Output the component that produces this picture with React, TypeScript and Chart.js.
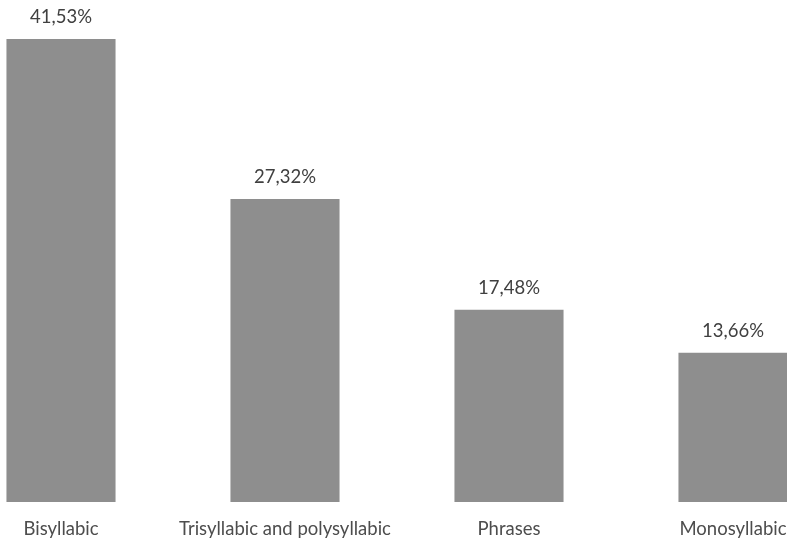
import React, { useEffect, useRef } from "react";
import { Chart, registerables } from "chart.js";

Chart.register(...registerables);

const categories = ["Bisyllabic", "Trisyllabic and polysyllabic", "Phrases", "Monosyllabic"];
const shares = [41.53, 27.32, 17.48, 13.66];
const shareLabels = ["41,53%", "27,32%", "17,48%", "13,66%"];

const FONT = "Lato, 'Open Sans', sans-serif";

const valueLabels = {
  id: "valueLabels",
  afterDatasetsDraw(chart: any) {
    const ctx = chart.ctx;
    const meta = chart.getDatasetMeta(0);
    ctx.save();
    ctx.fillStyle = "#404040";
    ctx.font = `18.5px ${FONT}`;
    ctx.textAlign = "center";
    ctx.textBaseline = "alphabetic";
    meta.data.forEach((bar: any, i: number) => {
      ctx.fillText(shareLabels[i], bar.x, bar.y - 16);
    });
    ctx.restore();
  },
};

export default function App() {
  const canvasRef = useRef<HTMLCanvasElement | null>(null);

  useEffect(() => {
    if (!canvasRef.current) return;
    const chart = new Chart(canvasRef.current, {
      type: "bar",
      data: {
        labels: categories,
        datasets: [
          {
            data: shares,
            backgroundColor: "#8e8e8e",
            borderWidth: 0,
            barPercentage: 0.487,
            categoryPercentage: 1,
          },
        ],
      },
      options: {
        animation: false,
        responsive: true,
        maintainAspectRatio: false,
        layout: { padding: 0 },
        plugins: {
          legend: { display: false },
          tooltip: { enabled: false },
        },
        scales: {
          x: {
            grid: { display: false, drawTicks: false },
            border: { display: false },
            ticks: {
              color: "#4d4d4d",
              font: { family: FONT, size: 18.5 },
              padding: 16,
              maxRotation: 0,
              autoSkip: false,
            },
            afterFit(scale: any) {
              scale.height = 41;
            },
          },
          y: {
            display: false,
            min: 0.4,
            max: 45,
          },
        },
      },
      plugins: [valueLabels],
    });
    return () => chart.destroy();
  }, []);

  return (
    <div
      style={{
        position: "fixed",
        left: 0,
        top: 0,
        width: 787,
        height: 543,
        overflow: "hidden",
        background: "#ffffff",
      }}
    >
      <div style={{ position: "absolute", left: -51, top: 0, width: 896, height: 543 }}>
        <canvas ref={canvasRef} />
      </div>
    </div>
  );
}
